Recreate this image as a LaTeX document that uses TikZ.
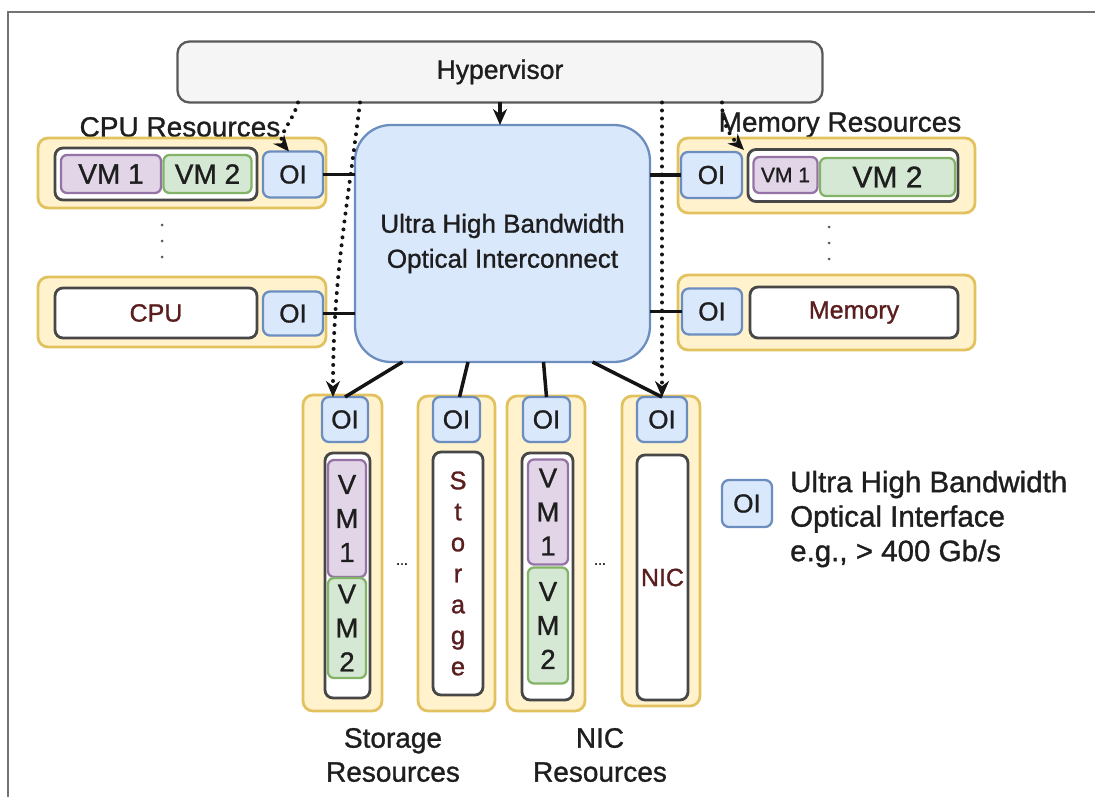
\documentclass[tikz,border=0pt]{standalone}
\usepackage{fontspec}
\setmainfont{Liberation Sans}[FakeBold=1.1]
\usetikzlibrary{arrows.meta,calc}
\definecolor{ybg}{HTML}{FFF2CC}
\definecolor{ybd}{HTML}{E2C25E}
\definecolor{bbg}{HTML}{DAE8FC}
\definecolor{bbd}{HTML}{6C8EBF}
\definecolor{pbg}{HTML}{E1D5E7}
\definecolor{pbd}{HTML}{9673A6}
\definecolor{gbg}{HTML}{D5E8D4}
\definecolor{gbd}{HTML}{82B366}
\definecolor{dred}{HTML}{5A1E1E}
\definecolor{txt}{HTML}{1E1E1E}
\begin{document}
\begin{tikzpicture}[x=1pt,y=-1pt,
 box/.style={rectangle, inner sep=0pt, outer sep=0pt, text=txt},
 ybox/.style={box, draw=ybd, fill=ybg, line width=2.8pt, rounded corners=10pt},
 gbox/.style={box, draw=black!72, fill=white, line width=2.8pt, rounded corners=8pt, font=\fontsize{25}{30}\selectfont},
 oibox/.style={box, draw=bbd, fill=bbg, line width=2.3pt, rounded corners=7pt, font=\fontsize{26}{30}\selectfont},
 vmA/.style={box, draw=pbd, fill=pbg, line width=2.3pt, rounded corners=6pt},
 vmB/.style={box, draw=gbd, fill=gbg, line width=2.3pt, rounded corners=6pt},
 vtext/.style={align=center, font=\fontsize{27.5}{34}\selectfont},
 lbl/.style={text=txt, inner sep=0pt, font=\fontsize{28}{34}\selectfont},
 link/.style={line width=3.5pt, black!92},
 dotline/.style={line width=4pt, dash pattern=on 0pt off 8pt, line cap=round, black!92},
 tip/.style={-{Stealth[length=16pt,width=14pt]}},
 vdots/.style={fill=black!65},
]
\useasboundingbox (0,0) rectangle (1095,797);
\draw[black!55, line width=2pt] (8,797) -- (8,12) -- (1095,12);

% Hypervisor and interconnect
\node[box, draw=black!65, fill=black!4, line width=2.3pt, rounded corners=12pt,
      minimum width=645pt, minimum height=61pt, font=\fontsize{26.5}{30}\selectfont] (hyp) at (500,72) {Hypervisor};
\node[box, draw=bbd, fill=bbg, line width=2.3pt, rounded corners=36pt,
      minimum width=295pt, minimum height=237pt, align=center, font=\fontsize{26}{35}\selectfont] (ic) at (502.5,243.5)
      {Ultra High Bandwidth\\Optical Interconnect};

% CPU resources
\node[lbl] (cpulbl) at (180,127) {CPU Resources};
\node[ybox, minimum width=288pt, minimum height=70pt] (c1) at (182,173) {};
\node[gbox, minimum width=202pt, minimum height=52pt] (c1in) at (156,174) {};
\node[vmA, minimum width=100pt, minimum height=38pt, font=\fontsize{28}{30}\selectfont] (c1vm1) at (111,174) {VM 1};
\node[vmB, minimum width=88pt, minimum height=38pt, font=\fontsize{28}{30}\selectfont] (c1vm2) at (207.5,174) {VM 2};
\node[oibox, minimum width=60pt, minimum height=46pt] (c1oi) at (293,174.5) {OI};
\foreach \yy in {225,241,257} \fill[vdots] (162,\yy) circle (1.5pt);
\node[ybox, minimum width=288pt, minimum height=70pt] (c2) at (182,312) {};
\node[gbox, minimum width=202pt, minimum height=50pt, text=dred] (cpu) at (156,313) {CPU};
\node[oibox, minimum width=60pt, minimum height=44pt] (c2oi) at (293,313.5) {OI};

% Memory resources
\node[lbl] (memlbl) at (840,125) {Memory Resources};
\node[ybox, minimum width=297pt, minimum height=75pt] (m1) at (826.5,175.5) {};
\node[oibox, minimum width=61pt, minimum height=46pt] (m1oi) at (711.5,175) {OI};
\node[gbox, minimum width=210pt, minimum height=52pt] (m1in) at (853,175.5) {};
\node[vmA, minimum width=64pt, minimum height=36pt, font=\fontsize{21}{24}\selectfont] (m1vm1) at (785.5,175) {VM 1};
\node[vmB, minimum width=135pt, minimum height=38pt, font=\fontsize{30}{32}\selectfont] (m1vm2) at (887.5,177) {VM 2};
\foreach \yy in {227,243,259} \fill[vdots] (829,\yy) circle (1.5pt);
\node[ybox, minimum width=297pt, minimum height=75pt] (m2) at (826.5,312.5) {};
\node[oibox, minimum width=60pt, minimum height=46pt] (m2oi) at (712,311.5) {OI};
\node[gbox, minimum width=208pt, minimum height=51pt, text=dred] (mem) at (854,312.5) {Memory};

% Storage resources
\node[ybox, minimum width=79pt, minimum height=316pt] (s1) at (342.5,553) {};
\node[oibox, minimum width=46pt, minimum height=45pt] (s1oi) at (345,419.5) {OI};
\node[gbox, minimum width=45pt, minimum height=245pt] (s1in) at (347.5,575.5) {};
\node[vmA, minimum width=38pt, minimum height=117pt, vtext] (s1vm1) at (347,518.5) {V\\M\\1};
\node[vmB, minimum width=38pt, minimum height=100pt, vtext] (s1vm2) at (347,628) {V\\M\\2};
\node[text=txt, font=\fontsize{14}{14}\selectfont] (sdots) at (402,564) {...};
\node[ybox, minimum width=77pt, minimum height=315pt] (s2) at (456.5,553.5) {};
\node[oibox, minimum width=47pt, minimum height=45pt] (s2oi) at (456.5,419.5) {OI};
\node[gbox, minimum width=50pt, minimum height=243pt, text=dred, align=center, font=\fontsize{25.5}{31}\selectfont] (stor) at (458,573.5) {S\\t\\o\\r\\a\\g\\e};

% NIC resources
\node[ybox, minimum width=78pt, minimum height=315pt] (n1) at (546,553.5) {};
\node[oibox, minimum width=47pt, minimum height=45pt] (s3oi) at (546.5,419.5) {OI};
\node[gbox, minimum width=51pt, minimum height=247pt] (n1in) at (547.5,576.5) {};
\node[vmA, minimum width=40pt, minimum height=105pt, vtext] (n1vm1) at (548,512) {V\\M\\1};
\node[vmB, minimum width=40pt, minimum height=116pt, vtext] (n1vm2) at (548,625.5) {V\\M\\2};
\node[text=txt, font=\fontsize{14}{14}\selectfont] (ndots) at (600,564) {...};
\node[ybox, minimum width=78pt, minimum height=310pt] (n2) at (661,551) {};
\node[oibox, minimum width=50pt, minimum height=45pt] (s4oi) at (662,419.5) {OI};
\node[gbox, minimum width=51pt, minimum height=245pt, text=dred] (nic) at (662.5,577.5) {NIC};

\node[lbl, align=center, font=\fontsize{28}{34}\selectfont] (storlbl) at (393,755) {Storage\\Resources};
\node[lbl, align=center, font=\fontsize{28}{34}\selectfont] (niclbl) at (600,755) {NIC\\Resources};

% Legend
\node[oibox, minimum width=50pt, minimum height=47pt] (legoi) at (747,503.5) {OI};
\node[lbl, anchor=west, align=left, font=\fontsize{29.5}{34.5}\selectfont] (legtxt) at (790,519)
  {Ultra High Bandwidth\\Optical Interface\\e.g., > 400 Gb/s};

% Solid links
\draw[link] (c1oi.east) -- (c1oi.east -| ic.west);
\draw[link] (c2oi.east) -- (c2oi.east -| ic.west);
\draw[link] (m1oi.west) -- (m1oi.west -| ic.east);
\draw[link] (m2oi.west) -- (m2oi.west -| ic.east);
\draw[link] ($(ic.south)+(-100,0)$) -- (s1oi.north);
\draw[link] ($(ic.south)+(-34.5,0)$) -- ($(s2oi.north)+(3,0)$);
\draw[link] ($(ic.south)+(41,0)$) -- (s3oi.north);
\draw[link] ($(ic.south)+(90,0)$) -- (s4oi.north);

% Hypervisor arrows
\draw[link, tip] (hyp.south) -- (hyp.south |- ic.north);
\draw[dotline, tip] ($(hyp.south)+(-202,0)$) to[out=-105,in=130] ($(c1oi.north)+(-4,0)$);
\draw[dotline, tip] ($(hyp.south)+(-140,0)$) to[out=-97,in=90] ($(s1oi.north)+(-12,0)$);
\draw[dotline, tip] ($(hyp.south)+(162,0)$) -- (s4oi.north);
\draw[dotline, tip] ($(hyp.south)+(222,0)$) to[out=-90,in=135] ($(m1oi.north east)+(2,-2)$);
\end{tikzpicture}
\end{document}
